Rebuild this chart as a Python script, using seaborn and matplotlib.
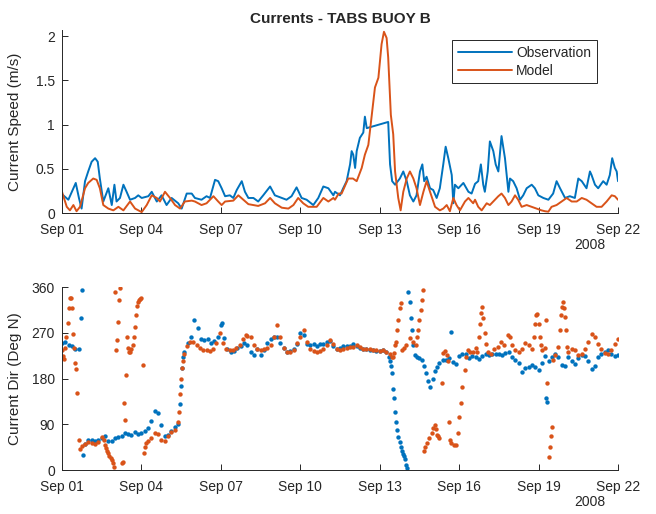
import pandas as pd
import seaborn as sns
import matplotlib.pyplot as plt
import matplotlib.dates as mdates

# current speed (m/s), time in days after 2008-09-01 00:00
obs_spd_day = [0.05, 0.24, 0.52, 0.64, 0.74, 0.87, 0.99, 1.12, 1.25, 1.35,
               1.43, 1.56, 1.75, 1.88, 1.98, 2.06, 2.19, 2.32, 2.44, 2.57,
               2.76, 2.88, 3.01, 3.26, 3.39, 3.58, 3.76, 3.95, 4.14, 4.39,
               4.52, 4.71, 4.90,
               5.02, 5.27, 5.46, 5.59, 5.78, 5.90, 6.03, 6.16, 6.34, 6.47,
               6.60, 6.79, 6.91, 7.04, 7.23, 7.41, 7.60, 7.86, 8.04, 8.30,
               8.48, 8.67, 8.86, 9.05, 9.24, 9.49, 9.68, 9.87, 10.06, 10.25,
               10.31, 10.50, 10.62, 10.75, 10.88, 10.94, 11.00, 11.07, 11.13, 11.25,
               11.38, 11.44, 11.51, 12.32, 12.39, 12.47, 12.58, 12.76, 12.89, 13.02,
               13.14, 13.27, 13.39, 13.52, 13.61, 13.68, 13.77, 13.90, 14.02, 14.15,
               14.27, 14.40, 14.49, 14.59, 14.72, 14.78, 14.84, 14.97, 15.16, 15.35,
               15.47, 15.60,
               15.72, 15.82, 15.91, 15.97, 16.08, 16.16, 16.29, 16.38, 16.48, 16.60,
               16.73, 16.86, 16.92, 17.04, 17.17, 17.30, 17.42, 17.55, 17.74, 17.86,
               17.99, 18.18, 18.37, 18.55, 18.68, 18.81, 19.00, 19.18, 19.37, 19.50,
               19.63, 19.81, 19.94, 20.00, 20.13, 20.25, 20.44, 20.57, 20.69, 20.78,
               20.88, 20.95, 21.0]
obs_spd = [0.20, 0.15, 0.34, 0.17, 0.05, 0.36, 0.47, 0.58, 0.62, 0.58,
           0.39, 0.13, 0.28, 0.09, 0.32, 0.13, 0.17, 0.32, 0.24, 0.15,
           0.17, 0.20, 0.17, 0.19, 0.24, 0.13, 0.20, 0.09, 0.17, 0.11,
           0.05, 0.22, 0.22,
           0.17, 0.15, 0.19, 0.17, 0.375, 0.36, 0.28, 0.19, 0.20, 0.17,
           0.26, 0.36, 0.24, 0.17, 0.17, 0.13, 0.20, 0.30, 0.20, 0.17,
           0.15, 0.19, 0.29, 0.17, 0.15, 0.09, 0.17, 0.30, 0.28, 0.20,
           0.24, 0.20, 0.28, 0.36, 0.55, 0.70, 0.66, 0.51, 0.70, 0.85,
           0.91, 1.09, 0.96, 1.03, 0.55, 0.36, 0.32, 0.39, 0.47, 0.36,
           0.20, 0.13, 0.20, 0.47, 0.55, 0.36, 0.41, 0.28, 0.26, 0.17,
           0.28, 0.55, 0.75, 0.62, 0.43, 0.11, 0.32, 0.28, 0.34, 0.24,
           0.22, 0.33,
           0.36, 0.55, 0.32, 0.24, 0.47, 0.81, 0.70, 0.55, 0.47, 0.87,
           0.62, 0.24, 0.39, 0.36, 0.28, 0.15, 0.20, 0.28, 0.32, 0.28,
           0.20, 0.17, 0.15, 0.22, 0.36, 0.28, 0.17, 0.19, 0.17, 0.39,
           0.36, 0.28, 0.47, 0.43, 0.32, 0.28, 0.36, 0.32, 0.43, 0.62,
           0.51, 0.47, 0.36]

mod_spd_day = [0.0, 0.18, 0.30, 0.43, 0.55, 0.68, 0.87, 0.99, 1.18, 1.31,
               1.43, 1.56, 1.75, 1.94, 2.13, 2.32, 2.57, 2.76, 3.01, 3.20,
               3.39, 3.58, 3.70, 3.89, 4.08, 4.27, 4.46, 4.64, 4.90,
               5.02, 5.27, 5.46, 5.72, 5.90, 6.03, 6.16, 6.47, 6.66, 6.85,
               7.04, 7.41, 7.67, 7.86, 8.04, 8.30, 8.55, 8.74, 8.92, 9.11,
               9.30, 9.62, 9.87, 10.06, 10.25,
               10.31, 10.45, 10.56, 10.81, 10.99, 11.13, 11.32, 11.44, 11.57, 11.69,
               11.82, 11.95, 12.01, 12.07, 12.16, 12.26, 12.32, 12.42, 12.51, 12.58,
               12.70, 12.79, 12.89, 13.02, 13.14, 13.27, 13.39, 13.52, 13.65, 13.77,
               13.90, 14.09, 14.27, 14.40, 14.53, 14.65, 14.78, 14.90, 15.03, 15.22,
               15.35, 15.53,
               15.60, 15.72, 15.85, 16.04, 16.16, 16.29, 16.48, 16.60, 16.73, 16.86,
               16.98, 17.11, 17.23, 17.36, 17.55, 17.74, 17.93, 18.11, 18.24, 18.37,
               18.49, 18.68, 18.87, 19.06, 19.25, 19.44, 19.63, 19.81, 20.00, 20.19,
               20.38, 20.57, 20.76, 20.88, 21.0]
mod_spd = [0.24, 0.07, 0.03, 0.09, 0.02, 0.07, 0.28, 0.34, 0.39, 0.375,
           0.28, 0.09, 0.05, 0.03, 0.07, 0.03, 0.13, 0.05, 0.01, 0.09,
           0.20, 0.17, 0.13, 0.24, 0.17, 0.09, 0.05, 0.13, 0.14,
           0.13, 0.09, 0.11, 0.19, 0.13, 0.09, 0.13, 0.14, 0.20, 0.15,
           0.10, 0.08, 0.11, 0.17, 0.11, 0.06, 0.05, 0.09, 0.17, 0.11,
           0.07, 0.07, 0.17, 0.13, 0.17,
           0.15, 0.22, 0.22, 0.39, 0.39, 0.36, 0.51, 0.66, 0.77, 1.08,
           1.42, 1.53, 1.72, 1.91, 2.05, 1.98, 1.76, 1.11, 0.89, 0.47,
           0.17, 0.03, 0.24, 0.39, 0.47, 0.39, 0.28, 0.09, 0.24, 0.36,
           0.24, 0.07, 0.03, 0.05, 0.09, 0.02, 0.17, 0.09, 0.03, 0.13,
           0.17, 0.11,
           0.15, 0.07, 0.03, 0.11, 0.09, 0.13, 0.19, 0.22, 0.17, 0.09,
           0.13, 0.20, 0.15, 0.07, 0.09, 0.07, 0.05, 0.03, 0.02, 0.015,
           0.07, 0.09, 0.13, 0.17, 0.13, 0.13, 0.17, 0.15, 0.11, 0.07,
           0.07, 0.13, 0.20, 0.19, 0.15]

# current direction (deg N), time in hours after 2008-09-01 00:00
obs_dir_hr = [0, 3, 6, 9, 12, 15, 17, 18, 19, 21,
              24, 27, 30, 33, 36, 39, 42, 45, 48,
              51, 54, 57, 60, 63, 66, 69, 72,
              75, 78, 81, 84, 87, 90, 93, 96,
              99, 102, 105, 107, 108, 109, 110, 111, 114, 117, 120,
              123, 126, 129, 132, 135, 138, 141, 144,
              145, 147, 150, 153, 156, 159, 162, 165,
              168, 171, 174, 177, 180, 183, 186, 189,
              192, 195, 198, 201, 204, 207, 210, 213,
              216, 219, 222, 225, 228, 231, 234, 237,
              240, 243, 246, 249, 252, 255, 258, 261,
              264, 267, 270, 273, 276, 279, 282, 285,
              288, 291, 294, 296, 297, 298, 299, 300,
              301, 302, 303, 304, 305, 306, 307, 308,
              309, 310, 311, 312, 313, 314, 315, 316,
              317, 318, 320, 322, 324, 326, 328, 330,
              332, 334, 336, 338, 340, 342, 345, 348,
              351, 353, 354, 357, 360, 363, 366, 369,
              372, 375, 378, 381, 384, 387, 390, 393,
              396, 399, 402, 405, 408, 411, 414, 417,
              420, 423, 426, 429, 432, 435, 438, 439,
              440, 441, 444, 447, 450, 453, 456, 459,
              462, 465, 468, 471, 474, 477, 480, 483,
              486, 489, 492, 495, 498, 501, 504]
obs_dir = [249, 252, 245, 243, 239, 238, 300, 355, 30, 52,
           60, 59, 57, 60, 62, 66, 57, 58, 62,
           64, 67, 72, 70, 68, 74, 71, 73,
           76, 82, 96, 116, 112, 88, 66, 68,
           76, 84, 90, 130, 165, 200, 222, 232, 250, 262, 295,
           280, 258, 255, 258, 250, 254, 262, 285,
           290, 260, 238, 233, 234, 240, 244, 250,
           245, 232, 226, 238, 226, 236, 250, 258,
           262, 262, 250, 240, 232, 234, 238, 248,
           270, 265, 248, 245, 248, 244, 248, 248,
           252, 254, 244, 238, 240, 244, 244, 244,
           248, 244, 240, 238, 238, 236, 236, 235,
           234, 236, 232, 222, 215, 205, 190, 160,
           141, 115, 95, 78, 65, 55, 45, 38,
           32, 27, 22, 10, 3, 350, 330, 300,
           275, 245, 226, 222, 220, 216, 205, 190,
           176, 164, 180, 195, 203, 210, 216, 216,
           220, 272, 212, 209, 225, 228, 228, 220,
           225, 222, 219, 225, 229, 226, 228, 229,
           228, 226, 230, 232, 222, 216, 210, 193,
           200, 203, 206, 203, 196, 210, 225, 141,
           134, 215, 222, 228, 222, 206, 205, 222,
           215, 208, 220, 226, 225, 215, 198, 205,
           222, 228, 232, 236, 228, 225, 226]

mod_dir_hr = [0, 1, 2, 3, 4, 5, 6, 7, 8, 9,
              10, 11, 12, 13, 14, 15, 16, 18, 21, 24,
              27, 30, 33, 36, 38, 39, 40, 41, 42, 43,
              44, 45, 46, 47, 48, 49, 50, 51, 52, 53,
              54, 55, 56, 57, 58, 59, 60, 61, 62, 63,
              64, 65, 66, 67, 68, 69, 70, 71, 72, 73,
              74, 75, 76, 78, 81, 84, 87, 90, 93, 96,
              99, 102, 105, 106, 107, 108, 109, 110, 111, 113,
              116, 119, 122, 125, 128, 131, 134, 137, 140, 143,
              146, 149, 152, 155, 158, 161, 164, 167, 168, 171,
              174, 177, 180, 183, 186, 189, 192, 195, 198, 201,
              204, 207, 210, 213, 216, 219, 222, 225, 228, 231,
              234, 237, 240, 243, 246, 249, 252, 255, 258, 261,
              264, 267, 270, 273, 276, 279, 282, 285, 288, 291,
              294, 297, 299, 300, 301, 302, 303, 304, 305, 306,
              307, 308, 310, 312, 315, 318, 321, 322, 323, 324,
              325, 326, 327, 328, 329, 331, 333, 335, 336, 338,
              339, 340, 341, 342, 344, 345, 347, 349, 350, 351,
              352, 353, 355, 357, 359, 360, 362, 363, 365, 366,
              368, 370, 373, 375, 376, 378, 379, 380, 381, 382,
              383, 384, 386, 389, 392, 395, 398, 401, 404, 406,
              408, 411, 414, 417, 420, 423, 426, 428, 429, 430,
              431, 432, 433, 434, 435, 438, 439, 440, 441, 442,
              443, 444, 445, 447, 450, 451, 452, 453, 454, 455,
              456, 457, 458, 459, 462, 465, 468, 471, 474, 477,
              480, 483, 486, 489, 492, 495, 498, 501, 504]
mod_dir = [236, 225, 218, 240, 262, 290, 318, 338, 338, 318,
           268, 240, 210, 198, 152, 60, 42, 48, 52, 55,
           53, 52, 55, 64, 60, 50, 43, 38, 33, 28,
           24, 20, 13, 6, 351, 236, 256, 292, 335, 358,
           14, 16, 132, 98, 187, 262, 240, 233, 232, 238,
           246, 262, 282, 305, 322, 331, 335, 337, 338, 207,
           33, 45, 53, 58, 62, 72, 70, 60, 58, 66,
           74, 78, 95, 115, 150, 180, 200, 215, 228, 243,
           252, 252, 246, 240, 236, 236, 235, 238, 250, 270,
           250, 238, 236, 236, 240, 246, 258, 266, 264, 262,
           245, 239, 236, 238, 241, 246, 262, 285, 262, 240,
           233, 232, 236, 250, 262, 275, 252, 238, 235, 232,
           234, 238, 245, 256, 248, 238, 236, 238, 240, 242,
           242, 245, 242, 239, 239, 239, 236, 236, 235, 236,
           232, 228, 222, 222, 230, 245, 252, 276, 296, 318,
           328, 236, 240, 246, 260, 252, 246, 262, 276, 296,
           315, 335, 355, 37, 46, 53, 62, 72, 82, 89,
           80, 69, 66, 62, 171, 230, 235, 226, 215, 95,
           60, 53, 49, 50, 72, 105, 131, 164, 197, 223,
           236, 232, 233, 240, 233, 262, 288, 308, 320, 300,
           270, 248, 232, 228, 238, 242, 252, 246, 265, 262,
           245, 236, 233, 239, 249, 245, 239, 262, 288, 304,
           306, 288, 262, 245, 236, 240, 296, 171, 26, 45,
           66, 85, 216, 226, 242, 275, 305, 321, 330, 318,
           301, 275, 242, 232, 239, 236, 226, 228, 239, 252,
           268, 262, 247, 238, 230, 228, 236, 248, 258]

BLUE = "#0072BD"
ORANGE = "#D95319"
AXC = "#262626"

start = pd.Timestamp("2008-09-01")
end = pd.Timestamp("2008-09-22")

spd_obs = pd.DataFrame({"time": start + pd.to_timedelta(obs_spd_day, unit="D"), "speed": obs_spd})
spd_mod = pd.DataFrame({"time": start + pd.to_timedelta(mod_spd_day, unit="D"), "speed": mod_spd})
dir_obs = pd.DataFrame({"time": start + pd.to_timedelta(obs_dir_hr, unit="h"), "dir": obs_dir})
dir_mod = pd.DataFrame({"time": start + pd.to_timedelta(mod_dir_hr, unit="h"), "dir": mod_dir})

sns.set_style("ticks")
plt.rcParams["font.family"] = ["Liberation Sans", "DejaVu Sans"]

fig = plt.figure(figsize=(6.56, 5.14), dpi=100)
ax1 = fig.add_axes([0.0945, 0.5856, 0.8476, 0.356])
ax2 = fig.add_axes([0.0945, 0.0856, 0.8476, 0.356])

sns.lineplot(data=spd_obs, x="time", y="speed", color=BLUE, linewidth=1.4,
             label="Observation", ax=ax1)
sns.lineplot(data=spd_mod, x="time", y="speed", color=ORANGE, linewidth=1.4,
             label="Model", ax=ax1)

sns.scatterplot(data=dir_obs, x="time", y="dir", color=BLUE, s=10, linewidth=0, ax=ax2)
sns.scatterplot(data=dir_mod, x="time", y="dir", color=ORANGE, s=10, linewidth=0, ax=ax2)

ticks = pd.date_range(start, end, freq="3D")
for ax in (ax1, ax2):
    ax.set_xlim(start, end)
    ax.set_xticks(ticks)
    ax.xaxis.set_major_formatter(mdates.DateFormatter("%b %d"))
    ax.set_xlabel("")
    for s in ("top", "right"):
        ax.spines[s].set_visible(False)
    for s in ("left", "bottom"):
        ax.spines[s].set_color(AXC)
        ax.spines[s].set_linewidth(0.7)
    ax.tick_params(direction="in", length=4, width=0.7, color=AXC,
                   labelcolor=AXC, labelsize=10)
    ax.tick_params(axis="x", pad=7)
    ax.tick_params(axis="y", pad=5)
    ax.text(0.977, -0.135, "2008", transform=ax.transAxes, ha="right", va="top",
            fontsize=10, color=AXC)
    ax.yaxis.set_label_coords(-0.072, 0.5)

ax1.set_ylim(0, 2.07)
ax1.set_yticks([0, 0.5, 1, 1.5, 2])
ax1.set_yticklabels(["0", "0.5", "1", "1.5", "2"])
ax1.set_ylabel("Current Speed (m/s)", fontsize=11, color=AXC)
ax1.set_title("Currents - TABS BUOY B", fontsize=11, fontweight="bold", pad=5)

ax2.set_ylim(0, 360)
ax2.set_yticks([0, 90, 180, 270, 360])
ax2.set_ylabel("Current Dir (Deg N)", fontsize=11, color=AXC)

leg = ax1.legend(loc="upper right", bbox_to_anchor=(0.962, 0.945), frameon=True,
                 fancybox=False, edgecolor=AXC, framealpha=1, fontsize=10,
                 handlelength=3.9, borderpad=0.4, labelspacing=0.3,
                 handletextpad=0.3, borderaxespad=0)
leg.get_frame().set_linewidth(0.7)

fig.savefig("out.png", dpi=100)
